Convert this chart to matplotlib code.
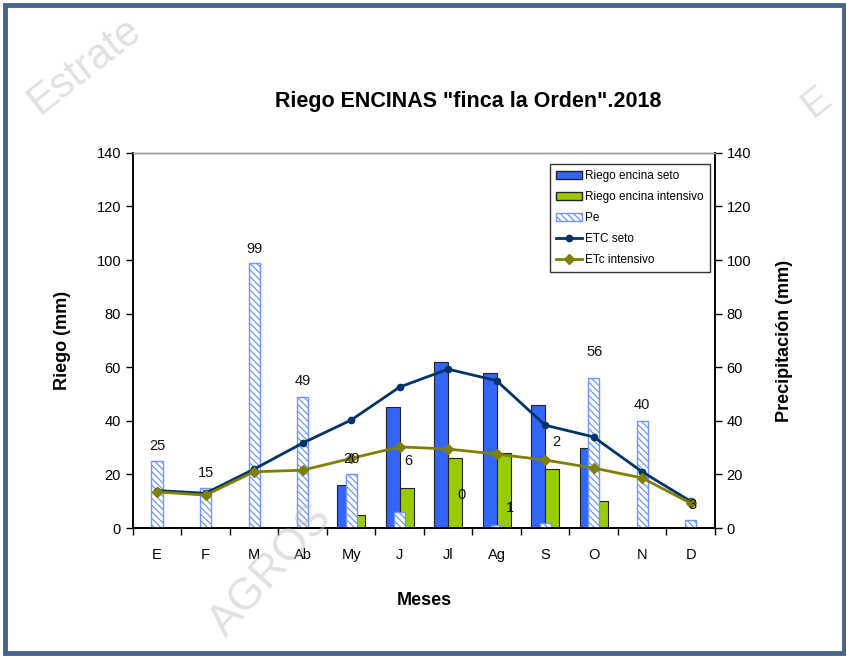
import matplotlib.pyplot as plt
import numpy as np
from matplotlib.patches import Rectangle, Patch
from matplotlib.lines import Line2D

plt.rcParams['font.family'] = ['Liberation Sans', 'DejaVu Sans']

meses = ['E', 'F', 'M', 'Ab', 'My', 'J', 'Jl', 'Ag', 'S', 'O', 'N', 'D']
riego_seto = [0, 0, 0, 0, 16, 45, 62, 58, 46, 30, 0, 0]
riego_intensivo = [0, 0, 0, 0, 5, 15, 26, 28, 22, 10, 0, 0]
pe = [25, 15, 99, 49, 20, 6, 0, 1, 2, 56, 40, 3]
etc_seto = [14, 13, 22, 31.7, 40.3, 52.6, 59.3, 55, 38.4, 34, 21, 10]
etc_intensivo = [13.5, 12.3, 21, 21.6, 26, 30.3, 29.5, 27.6, 25.4, 22.4, 18.7, 9.3]

# label offsets (pixels) as placed in the original sheet
lab_dx = [0, 0, 0, 0, 0, 9, 13, 13, 11, 1, 0, 2]
lab_dy = [15, 15, 14, 16, 15, 51, 33, 17, 81, 26, 16, 15]

fig = plt.figure(figsize=(8.46, 6.56), dpi=100)
fig.patch.set_facecolor('white')
fig.patches.append(Rectangle((0.006, 0.004), 0.992, 0.988, transform=fig.transFigure,
                             fill=False, edgecolor='#45648f', linewidth=3.5, zorder=0))

ax = fig.add_axes([0.157, 0.195, 0.688, 0.572])
ax2 = ax.twinx()
x = np.arange(len(meses))

ax.bar(x - 0.145, riego_seto, width=0.29, color='#3366ff', edgecolor='#222222', linewidth=0.8)
ax.bar(x + 0.145, riego_intensivo, width=0.29, color='#99cc00', edgecolor='#222222', linewidth=0.8)

plt.rcParams['hatch.color'] = '#5b86f0'
plt.rcParams['hatch.linewidth'] = 0.9
ax2.bar(x, pe, width=0.23, color='white', edgecolor='#6f96ff', hatch='\\\\\\\\\\', linewidth=1.0, zorder=2)

ax2.plot(x, etc_seto, color='#003366', marker='o', markersize=4.5, linewidth=2, zorder=4)
ax2.plot(x, etc_intensivo, color='#808000', marker='D', markersize=5, linewidth=2, zorder=4)

for i, v in enumerate(pe):
    ax2.annotate(str(v), (x[i], v), xytext=(lab_dx[i], lab_dy[i]), textcoords='offset pixels',
                 ha='center', va='center', fontsize=10.5, color='#111111', zorder=5)

for a in (ax, ax2):
    a.set_ylim(0, 140)
    a.set_yticks(range(0, 141, 20))
    a.tick_params(axis='y', direction='out', length=5, labelsize=10.5, width=1)
ax.set_xlim(-0.5, 11.5)
ax.set_xticks(x)
ax.set_xticklabels(meses, fontsize=10.5)
ax.set_xticks(np.arange(-0.5, 12, 1), minor=True)
ax.tick_params(axis='x', which='major', length=0, pad=14)
ax.tick_params(axis='x', which='minor', direction='out', length=5, width=1)

for a in (ax, ax2):
    a.spines['top'].set_color('#999999')
    a.spines['top'].set_linewidth(1)
    for s in ('left', 'right', 'bottom'):
        a.spines[s].set_linewidth(1.2)

ax.set_ylabel('Riego (mm)', fontsize=13, fontweight='bold', labelpad=18)
ax2.set_ylabel('Precipitación (mm)', fontsize=13, fontweight='bold', labelpad=18)
ax.set_xlabel('Meses', fontsize=13, fontweight='bold', labelpad=22)
fig.text(0.553, 0.845, 'Riego ENCINAS "finca la Orden".2018', ha='center', va='center',
         fontsize=15.5, fontweight='bold')

handles = [
    Patch(facecolor='#3366ff', edgecolor='#222222', label='Riego encina seto'),
    Patch(facecolor='#99cc00', edgecolor='#222222', label='Riego encina intensivo'),
    Patch(facecolor='white', edgecolor='#6f96ff', hatch='\\\\\\\\\\', label='Pe'),
    Line2D([], [], color='#003366', marker='o', markersize=4.5, linewidth=2, label='ETC seto'),
    Line2D([], [], color='#808000', marker='D', markersize=5, linewidth=2, label='ETc intensivo'),
]
leg = ax2.legend(handles=handles, loc='upper left', bbox_to_anchor=(0.706, 0.985),
                 fontsize=8.5, frameon=True, fancybox=False, edgecolor='black',
                 handlelength=2.2, handletextpad=0.3, borderpad=0.5, labelspacing=0.75)
leg.get_frame().set_linewidth(1)
leg.set_zorder(6)

# watermarks
fig.text(0.1, 0.9, 'Estrate', rotation=38, fontsize=30, color='#bbbbbb', alpha=0.45,
         ha='center', va='center')
fig.text(0.32, 0.13, 'AGROS', rotation=48, fontsize=32, color='#bbbbbb', alpha=0.45,
         ha='center', va='center')
fig.text(0.965, 0.845, 'E', rotation=38, fontsize=28, color='#bbbbbb', alpha=0.45,
         ha='center', va='center')

fig.savefig('out.png', dpi=100)
